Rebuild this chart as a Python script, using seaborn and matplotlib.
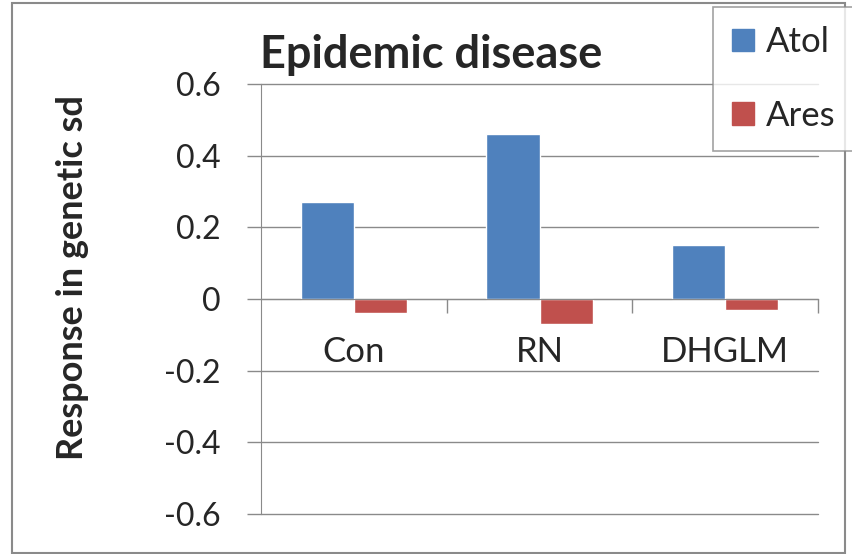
import numpy as np
import pandas as pd
import seaborn as sns
import matplotlib.pyplot as plt
from matplotlib.patches import Rectangle

# datos
categories = ["Con", "RN", "DHGLM"]
series = ["Atol", "Ares"]
atol = [0.27, 0.46, 0.15]
ares = [-0.04, -0.07, -0.03]
colors = ["#4F81BD", "#C0504D"]
yticks = [-0.6, -0.4, -0.2, 0, 0.2, 0.4, 0.6]
ytick_labels = ["-0.6", "-0.4", "-0.2", "0", "0.2", "0.4", "0.6"]

df = pd.DataFrame({
    "cat": categories * 2,
    "serie": [series[0]] * 3 + [series[1]] * 3,
    "valor": atol + ares,
})

sns.set_style("white")
plt.rcParams["font.family"] = ["Lato", "DejaVu Sans"]

fig = plt.figure(figsize=(8.52, 5.54), dpi=100)
ax = fig.add_axes([261 / 852, 40 / 554, 557 / 852, 430 / 554])

sns.barplot(data=df, x="cat", y="valor", hue="serie", order=categories,
            hue_order=series, palette=colors, width=0.571, gap=0,
            saturation=1, ax=ax, legend=False)

ax.set_xlim(-0.5, len(categories) - 0.5)
ax.set_ylim(-0.6, 0.6)
ax.set_yticks(yticks)
ax.set_yticklabels(ytick_labels, fontsize=23)
ax.yaxis.grid(True, color="#8a8a8a", linewidth=1)
for gl in ax.get_ygridlines():
    gl.set_clip_on(False)
ax.set_axisbelow(True)

# eje x en cero, marcas entre categorias
for s in ["top", "right"]:
    ax.spines[s].set_visible(False)
ax.spines["left"].set_color("#8a8a8a")
ax.spines["bottom"].set_position(("data", 0))
ax.spines["bottom"].set_color("#8a8a8a")
ax.set_xticks(range(len(categories)))
ax.set_xticklabels(categories, fontsize=25)
ax.set_xticks(np.arange(len(categories)) + 0.5, minor=True)
ax.tick_params(axis="x", which="major", length=0, pad=27, bottom=True)
ax.tick_params(axis="x", which="minor", length=10, width=1, color="#8a8a8a",
               direction="out", bottom=True)
ax.tick_params(axis="y", length=10, width=1, color="#8a8a8a", direction="out",
               pad=19, left=True)
ax.set_xlabel("")
ax.set_ylabel("Response in genetic sd", fontsize=26, fontweight="bold")
ax.yaxis.set_label_coords(-0.309, 0.549)

fig.text(260 / 852, 1 - 68 / 554, "Epidemic disease", fontsize=32.5,
         fontweight="bold", va="baseline", ha="left")

handles = [Rectangle((0, 0), 1, 1, color=c) for c in colors]
leg = fig.legend(handles, series, loc="upper left",
                 bbox_to_anchor=(713 / 852, 1 - 7 / 554), fontsize=25,
                 frameon=True, fancybox=False, handlelength=0.62,
                 handleheight=0.62, handletextpad=0.35, labelspacing=1.2,
                 borderpad=0.55, borderaxespad=0)
leg.get_frame().set_edgecolor("#8a8a8a")
leg.get_frame().set_linewidth(1.2)

# borde exterior del grafico
fig.patches.append(Rectangle((12 / 852, 0.002), 833 / 852, 1 - 3 / 554 - 0.002,
                             transform=fig.transFigure, fill=False,
                             edgecolor="#8a8a8a", linewidth=1.5, zorder=-1))

fig.savefig("out.png", dpi=100)
